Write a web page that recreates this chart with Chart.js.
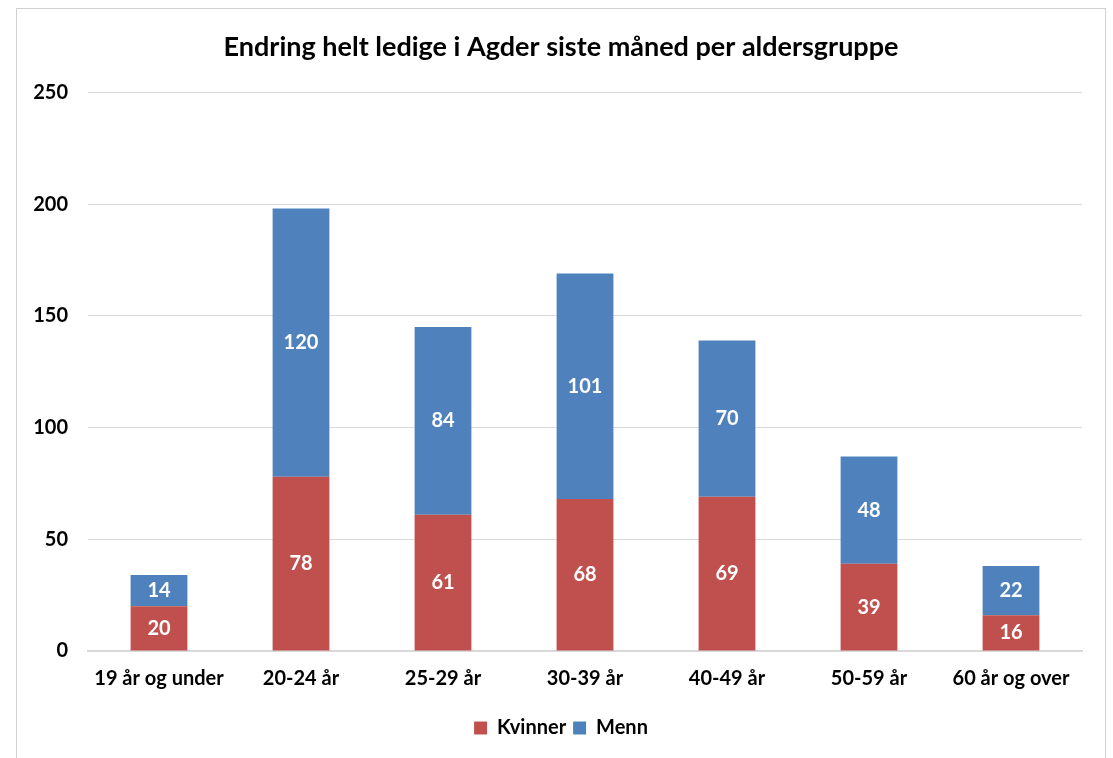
<!DOCTYPE html>
<html>
<head>
<meta charset="utf-8">
<script src="https://cdn.jsdelivr.net/npm/chart.js@4.4.1/dist/chart.umd.min.js"></script>
<style>
  html, body { margin: 0; padding: 0; background: #fff; overflow: hidden; }
  #frame { position: absolute; left: 16px; top: 8px; width: 1088px; height: 760px; border: 1px solid #d0d0d0; border-bottom: none; background: #fff; }
  #wrap { position: absolute; left: 0; top: 0; width: 1088px; height: 749px; }
</style>
</head>
<body>
<div id="frame"><div id="wrap"><canvas id="c"></canvas></div></div>
<script>
const categories = ["19 år og under", "20-24 år", "25-29 år", "30-39 år", "40-49 år", "50-59 år", "60 år og over"];
const kvinner = [20, 78, 61, 68, 69, 39, 16];
const menn = [14, 120, 84, 101, 70, 48, 22];
const yTicks = [0, 50, 100, 150, 200, 250];
const titleText = "Endring helt ledige i Agder siste måned per aldersgruppe";

const FONT = "Lato, 'Open Sans', sans-serif";

const barLabels = {
  id: 'barLabels',
  afterDatasetsDraw(chart) {
    const ctx = chart.ctx;
    ctx.save();
    ctx.fillStyle = '#ffffff';
    ctx.font = 'bold 20px ' + FONT;
    ctx.textAlign = 'center';
    ctx.textBaseline = 'middle';
    chart.data.datasets.forEach((ds, i) => {
      const meta = chart.getDatasetMeta(i);
      meta.data.forEach((bar, j) => {
        const p = bar.getProps(['x', 'y', 'base'], true);
        ctx.fillText(String(ds.data[j]), p.x, (p.y + p.base) / 2);
      });
    });
    ctx.restore();
  }
};

new Chart(document.getElementById('c'), {
  type: 'bar',
  data: {
    labels: categories,
    datasets: [
      { label: 'Kvinner', data: kvinner, backgroundColor: '#C0504D', barPercentage: 0.4, categoryPercentage: 1.0 },
      { label: 'Menn', data: menn, backgroundColor: '#4F81BD', barPercentage: 0.4, categoryPercentage: 1.0 }
    ]
  },
  options: {
    responsive: true,
    maintainAspectRatio: false,
    animation: false,
    layout: { padding: { left: 0, right: 0, top: 0, bottom: 10 } },
    plugins: {
      title: {
        display: true,
        text: titleText,
        color: '#000',
        font: { family: FONT, size: 27, weight: 'bold' },
        padding: { top: 22, bottom: 29 }
      },
      legend: {
        position: 'bottom',
        labels: {
          color: '#000',
          font: { family: FONT, size: 20, weight: 'bold' },
          boxWidth: 13, boxHeight: 13, padding: 7
        }
      },
      tooltip: { enabled: false }
    },
    scales: {
      x: {
        stacked: true,
        grid: { display: false, drawTicks: false },
        border: { display: true, color: '#d9d9d9', width: 2 },
        ticks: { color: '#000', font: { family: FONT, size: 20, weight: 'bold' }, padding: 16, maxRotation: 0 },
        afterFit(scale) { scale.height = 60; }
      },
      y: {
        stacked: true,
        min: 0, max: 250,
        afterBuildTicks(scale) { scale.ticks = yTicks.map(v => ({ value: v })); },
        grid: { color: '#d9d9d9', drawTicks: false, lineWidth: 1 },
        border: { display: false },
        ticks: { color: '#000', font: { family: FONT, size: 20, weight: 'bold' }, padding: 20 },
        afterFit(scale) { scale.width = 71; }
      },
      yRight: {
        type: 'linear',
        position: 'right',
        display: true,
        min: 0, max: 250,
        grid: { display: false, drawTicks: false },
        border: { display: false },
        ticks: { display: false },
        afterFit(scale) { scale.width = 23; }
      }
    }
  },
  plugins: [barLabels]
});
</script>
</body>
</html>
